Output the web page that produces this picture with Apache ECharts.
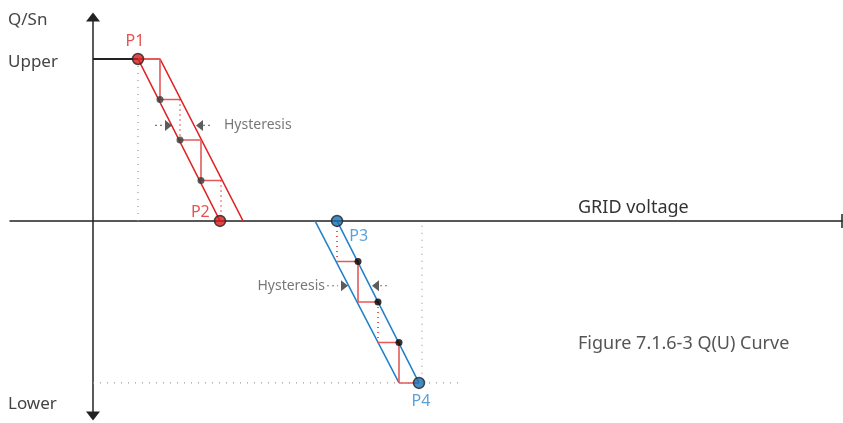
<!DOCTYPE html>
<html>
<head>
<meta charset="utf-8">
<script src="https://cdn.jsdelivr.net/npm/echarts@6/dist/echarts.min.js"></script>
<style>
  html, body { margin: 0; padding: 0; background: #fff; }
  #chart { width: 843px; height: 423px; }
</style>
</head>
<body>
<div id="chart"></div>
<script>
// x = grid voltage (arbitrary units), y = Q/Sn
var upperQ = 1;
var lowerQ = -1;
var axisTexts = ['Q/Sn', 'Upper', 'Lower', 'GRID voltage'];
var caption = 'Figure 7.1.6-3 Q(U) Curve';

// characteristic points
var pointNames = ['P1', 'P2', 'P3', 'P4'];
var pointX = [4.5, 12.7, 24.4, 32.6];
var pointQ = [1, 0, 0, -1];

// red band (Q > 0): P2 -> P1 -> top right -> bottom right
var redBand = [[12.7, 0], [4.5, 1], [6.7, 1], [15.0, 0]];
// blue band (Q < 0): left edge, right edge
var blueLeft = [[22.2, 0], [30.6, -1]];
var blueRight = [[24.4, 0], [32.6, -1]];

// hysteresis steps
var redSteps = [[6.7, 1], [6.7, 0.75], [8.7, 0.75], [8.7, 0.5], [10.8, 0.5], [10.8, 0.25], [12.8, 0.25], [12.8, 0]];
var blueSteps = [[24.4, 0], [24.4, -0.25], [26.5, -0.25], [26.5, -0.5], [28.5, -0.5], [28.5, -0.75], [30.6, -0.75], [30.6, -1], [32.6, -1]];
var redDots = [[6.7, 0.75], [8.7, 0.5], [10.8, 0.25]];
var blueDots = [[26.5, -0.25], [28.5, -0.5], [30.6, -0.75]];

// grey guides
var upperLine = [[0, 1], [4.5, 1]];
var guideP1 = [[4.5, 1], [4.5, 0]];
var guideP4 = [[32.9, -0.03], [32.9, -1]];
var guideLower = [[0, -1], [36.5, -1]];

// hysteresis marks
var hystLabel = 'Hysteresis';
var redHystArrows = [[7.55, 0.59], [10.65, 0.59]];
var redHystLeaders = [[[6.2, 0.59], [7.2, 0.59]], [[11.0, 0.59], [12.0, 0.59]]];
var redHystText = [13.1, 0.59];
var blueHystArrows = [[25.15, -0.4], [28.25, -0.4]];
var blueHystLeaders = [[[23.4, -0.4], [24.5, -0.4]], [[28.7, -0.4], [29.6, -0.4]]];
var blueHystText = [23.2, -0.4];

var RED = '#e02424';
var STEP = '#e25a5a';
var BLUE = '#1f7fc6';
var GREY = '#9a9a9a';
var FONT = 'Noto Sans';

var chart = echarts.init(document.getElementById('chart'));

function line(data, color, width, type, z) {
  return {
    type: 'line', data: data, symbol: 'none', silent: true, z: z,
    lineStyle: { color: color, width: width, type: type }
  };
}

// split a step path into segments, verticals alternate solid / dotted
function stepSeries(points, firstSolid) {
  var out = [];
  var v = 0;
  for (var i = 0; i < points.length - 1; i++) {
    var a = points[i], b = points[i + 1];
    if (a[0] === b[0]) {
      var solid = (v % 2 === 0) === firstSolid;
      v++;
      out.push(solid ? line([a, b], STEP, 1.6, 'solid', 4) : line([a, b], RED, 1.5, [1, 4], 4));
    } else {
      out.push(line([a, b], STEP, 1.6, 'solid', 4));
    }
  }
  return out;
}

var series = [];
series.push(line(upperLine, '#222', 2, 'solid', 3));
series.push(line(guideP1, GREY, 1.2, [1, 6], 2));
series.push(line(guideP4, GREY, 1.2, [1, 6], 2));
series.push(line(guideLower, GREY, 1.2, [1, 6], 2));
series.push(line(redBand, RED, 1.5, 'solid', 3));
series.push(line(blueLeft, BLUE, 1.5, 'solid', 3));
series.push(line(blueRight, BLUE, 1.5, 'solid', 3));
series = series.concat(stepSeries(redSteps, true));
series = series.concat(stepSeries(blueSteps, false));

redHystLeaders.concat(blueHystLeaders).forEach(function (l) {
  series.push(line(l, '#777', 1.2, [2, 3], 2));
});

series.push({
  type: 'scatter', z: 6, silent: true,
  data: [
    { value: redHystArrows[0], symbolRotate: -90 },
    { value: redHystArrows[1], symbolRotate: 90 },
    { value: blueHystArrows[0], symbolRotate: -90 },
    { value: blueHystArrows[1], symbolRotate: 90 }
  ],
  symbol: 'triangle', symbolSize: [11, 7],
  itemStyle: { color: '#333' }
});

series.push({
  type: 'scatter', z: 6, silent: true, symbolSize: 0,
  data: [
    { value: redHystText, label: { position: 'right' } },
    { value: blueHystText, label: { position: 'left' } }
  ],
  label: {
    show: true, distance: 0, formatter: hystLabel,
    fontFamily: FONT, fontSize: 14, color: '#555'
  }
});

series.push({
  type: 'scatter', z: 7, silent: true, symbolSize: 7,
  data: redDots, itemStyle: { color: '#3a3a3a' }
});
series.push({
  type: 'scatter', z: 7, silent: true, symbolSize: 7,
  data: blueDots, itemStyle: { color: '#000' }
});

var labelPos = [
  { position: 'top', distance: 3, offset: [-3, 0] },
  { position: 'left', distance: 4, offset: [0, -9] },
  { position: 'right', distance: 6, offset: [0, 15] },
  { position: 'bottom', distance: 4, offset: [2, 0] }
];
series.push({
  type: 'scatter', z: 8, silent: true, symbolSize: 11,
  data: pointNames.map(function (n, i) {
    var c = i < 2 ? '#d41c1c' : '#166fb4';
    var t = i < 2 ? '#e02424' : '#2f8bd0';
    return {
      name: n, value: [pointX[i], pointQ[i]],
      itemStyle: { color: c, borderColor: '#222', borderWidth: 1.5 },
      label: Object.assign({ show: true, formatter: n, color: t, fontSize: 16, fontFamily: FONT }, labelPos[i])
    };
  })
});

chart.setOption({
  animation: false,
  backgroundColor: '#fff',
  grid: { left: 10, right: 1, top: 17, bottom: 7 },
  xAxis: {
    type: 'value', min: -8.3, max: 74.9,
    splitLine: { show: false }, axisTick: { show: false }, axisLabel: { show: false },
    axisLine: {
      onZero: true, symbol: ['none', 'rect'], symbolSize: [14, 1.5],
      lineStyle: { color: '#222', width: 1.5 }
    }
  },
  yAxis: {
    type: 'value', min: -1.204, max: 1.259,
    splitLine: { show: false }, axisTick: { show: false }, axisLabel: { show: false },
    axisLine: {
      onZero: true, symbol: ['triangle', 'triangle'], symbolSize: [14, 9],
      lineStyle: { color: '#222', width: 1.5 }
    }
  },
  graphic: [
    { type: 'text', left: 8, top: 12, style: { text: axisTexts[0], font: '17px "Noto Sans"', fill: '#444' } },
    { type: 'text', left: 8, top: 54, style: { text: axisTexts[1], font: '17px "Noto Sans"', fill: '#444' } },
    { type: 'text', left: 8, top: 396, style: { text: axisTexts[2], font: '17px "Noto Sans"', fill: '#444' } },
    { type: 'text', left: 578, top: 199, style: { text: axisTexts[3], font: '18px "Noto Sans"', fill: '#333' } },
    { type: 'text', left: 578, top: 335, style: { text: caption, font: '18px "Noto Sans"', fill: '#555' } }
  ],
  series: series
});
</script>
</body>
</html>
